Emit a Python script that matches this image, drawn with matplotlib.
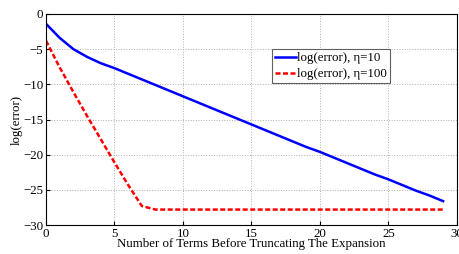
import matplotlib.pyplot as plt
import numpy as np

terms = np.arange(0, 30)
err_eta10 = [-1.4, -3.4, -5.0, -6.1, -7.0, -7.7, -8.5, -9.3, -10.1, -10.9,
             -11.7, -12.5, -13.3, -14.1, -14.9, -15.7, -16.5, -17.3, -18.1, -18.9,
             -19.6, -20.4, -21.2, -22.0, -22.8, -23.5, -24.3, -25.1, -25.8, -26.6]
err_eta100 = [-3.8, -7.6, -11.1, -14.5, -17.8, -21.1, -24.3, -27.3] + [-27.8] * 22

plt.rcParams['font.family'] = ['Liberation Serif', 'DejaVu Serif']
fig = plt.figure(figsize=(4.6, 2.54), dpi=100)
ax = fig.add_axes([0.1, 0.114, 0.893, 0.831])

ax.plot(terms, err_eta10, color='#0000ff', lw=1.8, label='log(error), η=10')
ax.plot(terms, err_eta100, color='#ff0000', lw=1.8, ls=(0, (2, 1)), label='log(error), η=100')

ax.set_xlim(0, 30)
ax.set_ylim(-30, 0)
ax.set_xticks(range(0, 31, 5))
ax.set_yticks(range(-30, 1, 5))
ax.tick_params(direction='in', labelsize=9.3, length=3, pad=2)
ax.grid(True, ls=':', color='#b0b0b0', lw=0.7)
ax.set_xlabel('Number of Terms Before Truncating The Expansion', fontsize=9.3, labelpad=-1)
ax.set_ylabel('log(error)', fontsize=9.3, labelpad=0)

leg = ax.legend(loc='upper left', bbox_to_anchor=(0.55, 0.834), fontsize=9.3,
                frameon=True, fancybox=False, edgecolor='#606060', framealpha=1,
                handlelength=1.6, handletextpad=0.1, borderpad=0.25, labelspacing=0.3,
                borderaxespad=0)
leg.get_frame().set_linewidth(0.8)

fig.savefig('out.png', dpi=100)
